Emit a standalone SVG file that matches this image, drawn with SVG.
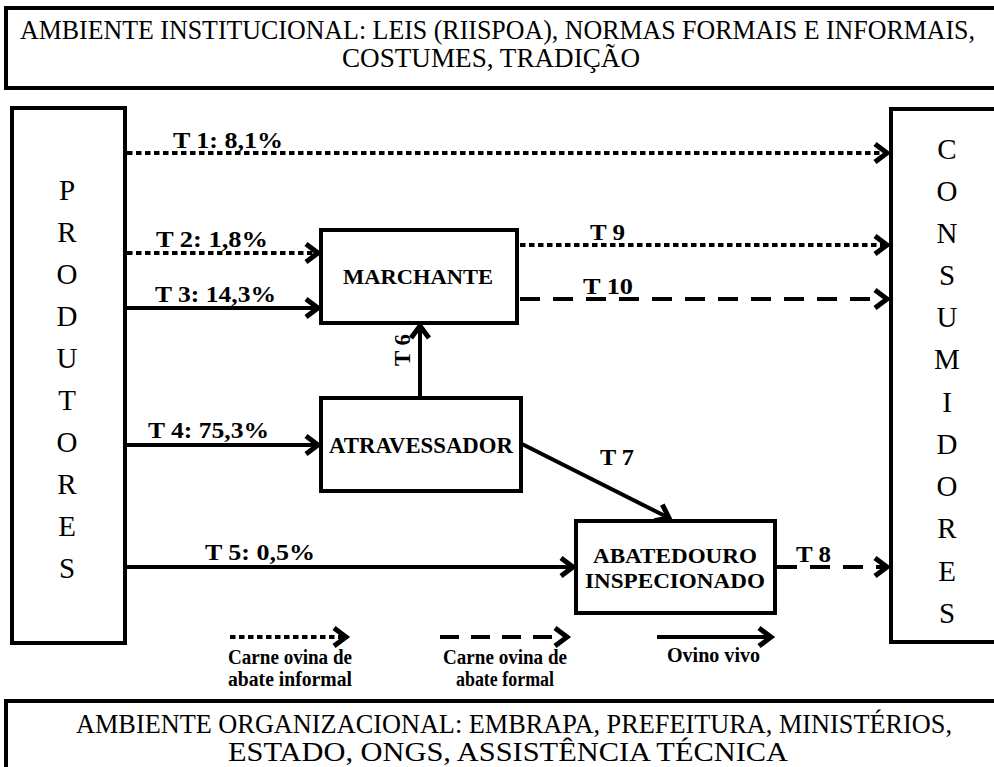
<svg xmlns="http://www.w3.org/2000/svg" width="994" height="767" viewBox="0 0 994 767">
<style>
.box{fill:#fff;stroke:#000;stroke-width:4}
.big{font-family:"Liberation Serif","Times New Roman",serif;font-size:29px;fill:#000}
.ban{font-family:"Liberation Serif","Times New Roman",serif;font-size:27px;fill:#000}
.lbl{font-family:"Liberation Serif","Times New Roman",serif;font-weight:bold;font-size:24px;fill:#000}
.nd{font-family:"Liberation Serif","Times New Roman",serif;font-weight:bold;fill:#000}
.leg{font-family:"Liberation Serif","Times New Roman",serif;font-weight:bold;font-size:20px;fill:#000}
.ln{fill:none;stroke:#000;stroke-width:4;marker-end:url(#ah)}
.dot{stroke-dasharray:5.5 3.5}
.dash{stroke-dasharray:20 13}
</style>
<defs>
<marker id="ah" markerUnits="userSpaceOnUse" markerWidth="30" markerHeight="30" refX="15" refY="15" orient="auto" overflow="visible">
<path d="M3,6 L15,15 L3,24" fill="none" stroke="#000" stroke-width="5" stroke-linejoin="miter" stroke-miterlimit="10"/>
</marker>
</defs>
<rect width="994" height="767" fill="#fff"/>

<g id="ambiente-institucional">
<rect class="box" x="6" y="8" width="1000" height="80"/>
<text class="ban" x="20" y="39" font-size="26" textLength="955" lengthAdjust="spacingAndGlyphs">AMBIENTE INSTITUCIONAL: LEIS (RIISPOA), NORMAS FORMAIS E INFORMAIS,</text>
<text class="ban" x="342" y="67" textLength="298" lengthAdjust="spacingAndGlyphs">COSTUMES, TRADIÇÃO</text>
</g>

<g id="ambiente-organizacional">
<rect class="box" x="6" y="701" width="1000" height="80"/>
<text class="ban" x="76" y="733" textLength="876" lengthAdjust="spacingAndGlyphs">AMBIENTE ORGANIZACIONAL: EMBRAPA, PREFEITURA, MINISTÉRIOS,</text>
<text class="ban" x="228" y="761" textLength="560" lengthAdjust="spacingAndGlyphs">ESTADO, ONGS, ASSISTÊNCIA TÉCNICA</text>
</g>

<g id="produtores">
<rect class="box" x="12" y="108" width="113" height="535"/>
<g class="big" text-anchor="middle">
<text x="67" y="200">P</text>
<text x="67" y="242">R</text>
<text x="67" y="284">O</text>
<text x="67" y="326">D</text>
<text x="67" y="368">U</text>
<text x="67" y="410">T</text>
<text x="67" y="452">O</text>
<text x="67" y="494">R</text>
<text x="67" y="536">E</text>
<text x="67" y="578">S</text>
</g>
</g>

<g id="consumidores">
<rect class="box" x="891" y="109" width="200" height="533"/>
<g class="big" text-anchor="middle">
<text x="947" y="159">C</text>
<text x="947" y="201">O</text>
<text x="947" y="243">N</text>
<text x="947" y="285">S</text>
<text x="947" y="327">U</text>
<text x="947" y="369">M</text>
<text x="947" y="412">I</text>
<text x="947" y="454">D</text>
<text x="947" y="496">O</text>
<text x="947" y="538">R</text>
<text x="947" y="581">E</text>
<text x="947" y="623">S</text>
</g>
</g>

<g id="marchante">
<rect class="box" x="321" y="230" width="196" height="93"/>
<text class="nd" x="343" y="284" font-size="21" textLength="150" lengthAdjust="spacingAndGlyphs">MARCHANTE</text>
</g>

<g id="atravessador">
<rect class="box" x="321" y="398" width="200" height="93"/>
<text class="nd" x="329" y="453" font-size="23" textLength="184" lengthAdjust="spacingAndGlyphs">ATRAVESSADOR</text>
</g>

<g id="abatedouro">
<rect class="box" x="576" y="521" width="199" height="92"/>
<text class="nd" x="593" y="563" font-size="22" textLength="164" lengthAdjust="spacingAndGlyphs">ABATEDOURO</text>
<text class="nd" x="585" y="588" font-size="22" textLength="180" lengthAdjust="spacingAndGlyphs">INSPECIONADO</text>
</g>

<g id="connectors">
<line class="ln dot" x1="127" y1="153" x2="887" y2="153"/>
<line class="ln dot" x1="127" y1="253" x2="318" y2="253"/>
<line class="ln" x1="127" y1="308" x2="318" y2="308"/>
<line class="ln" x1="127" y1="445" x2="318" y2="445"/>
<line class="ln" x1="127" y1="567" x2="573" y2="567"/>
<line class="ln" x1="420" y1="396" x2="420" y2="326"/>
<line class="ln" x1="522" y1="444" x2="669" y2="518"/>
<line class="ln dot" x1="520" y1="245" x2="887" y2="245"/>
<line class="ln dash" x1="520" y1="299" x2="887" y2="299"/>
<line class="ln dash" x1="777" y1="567" x2="887" y2="567"/>
<text class="lbl" x="173" y="148" textLength="110" lengthAdjust="spacingAndGlyphs">T 1: 8,1%</text>
<text class="lbl" x="156" y="247" textLength="112" lengthAdjust="spacingAndGlyphs">T 2: 1,8%</text>
<text class="lbl" x="155" y="302" textLength="121" lengthAdjust="spacingAndGlyphs">T 3: 14,3%</text>
<text class="lbl" x="148" y="438" textLength="121" lengthAdjust="spacingAndGlyphs">T 4: 75,3%</text>
<text class="lbl" x="205" y="560" textLength="110" lengthAdjust="spacingAndGlyphs">T 5: 0,5%</text>
<text class="lbl" transform="translate(410,366) rotate(-90)" textLength="32" lengthAdjust="spacingAndGlyphs">T 6</text>
<text class="lbl" x="600" y="465" textLength="34" lengthAdjust="spacingAndGlyphs">T 7</text>
<text class="lbl" x="796" y="562" textLength="35" lengthAdjust="spacingAndGlyphs">T 8</text>
<text class="lbl" x="590" y="240" textLength="35" lengthAdjust="spacingAndGlyphs">T 9</text>
<text class="lbl" x="583" y="294" textLength="50" lengthAdjust="spacingAndGlyphs">T 10</text>
</g>

<g id="legenda">
<line class="ln dot" x1="230" y1="637" x2="346" y2="637"/>
<line class="ln dash" x1="440" y1="637" x2="567" y2="637" style="stroke-dasharray:19 12"/>
<line class="ln" x1="657" y1="637" x2="771" y2="637"/>
<g class="leg">
<text x="228" y="664" textLength="124" lengthAdjust="spacingAndGlyphs">Carne ovina de</text>
<text x="228" y="686" textLength="124" lengthAdjust="spacingAndGlyphs">abate informal</text>
<text x="443" y="664" textLength="124" lengthAdjust="spacingAndGlyphs">Carne ovina de</text>
<text x="456" y="686" textLength="98" lengthAdjust="spacingAndGlyphs">abate formal</text>
<text x="667" y="662" textLength="93" lengthAdjust="spacingAndGlyphs">Ovino vivo</text>
</g>
</g>
</svg>
